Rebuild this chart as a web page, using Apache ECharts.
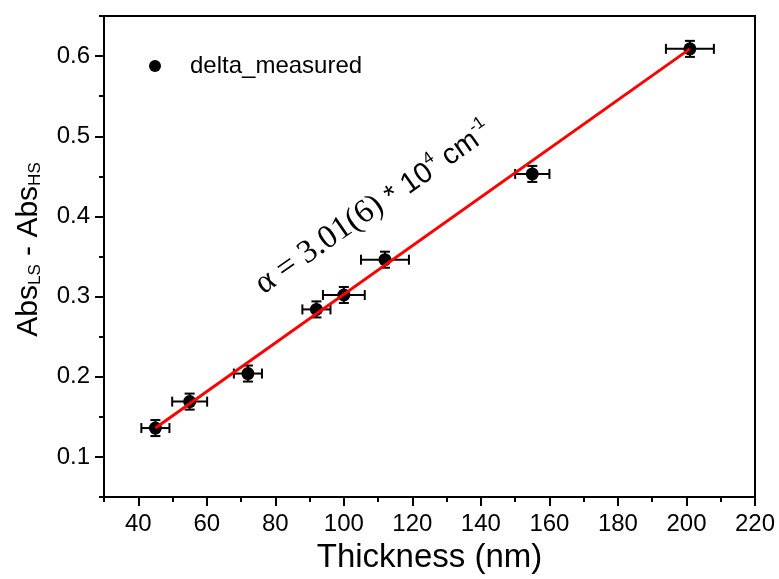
<!DOCTYPE html>
<html>
<head>
<meta charset="utf-8">
<script src="https://cdn.jsdelivr.net/npm/echarts@6/dist/echarts.min.js"></script>
<style>
  html, body { margin: 0; padding: 0; background: #ffffff; }
  #chart { width: 779px; height: 579px; }
</style>
</head>
<body>
<div id="chart"></div>
<script>
// ---- Data ----
const thickness    = [45, 55, 72, 92, 100, 112, 155, 201];
const thicknessErr = [4.1, 5.1, 4.1, 4.1, 6.1, 7, 5, 7];
const absDiff      = [0.136, 0.169, 0.204, 0.284, 0.302, 0.346, 0.453, 0.609];
const absDiffErr   = [0.01, 0.01, 0.01, 0.01, 0.01, 0.01, 0.01, 0.01];
const fitX = [45, 201];
const fitY = [0.136, 0.609];
const xTickLabels = [40, 60, 80, 100, 120, 140, 160, 180, 200, 220];
const yTickLabels = [0.1, 0.2, 0.3, 0.4, 0.5, 0.6];
const seriesName = 'delta_measured';

// ---- Build ----
const pointData = thickness.map((x, i) => [x, absDiff[i], thicknessErr[i], absDiffErr[i]]);
const fitData = fitX.map((x, i) => [x, fitY[i]]);

const sans = 'Liberation Sans, Arial, sans-serif';
const serif = 'Liberation Serif, Times New Roman, serif';

const chart = echarts.init(document.getElementById('chart'), null, { renderer: 'canvas' });

const axisLineStyle = { color: '#000', width: 2 };

const option = {
  backgroundColor: '#ffffff',
  animation: false,
  grid: {
    left: 104, right: 24, top: 16, bottom: 82,
    show: true, borderColor: '#000', borderWidth: 2, backgroundColor: 'transparent'
  },
  legend: {
    data: [{ name: seriesName, icon: 'circle', itemStyle: { color: '#000', opacity: 1 } }],
    left: 149, top: 54, padding: 0,
    itemWidth: 12, itemHeight: 12,
    textStyle: { fontFamily: sans, fontSize: 24, color: '#000', padding: [0, 0, 0, 24] }
  },
  xAxis: [{
    type: 'value', min: 30, max: 220, interval: 10,
    name: 'Thickness (nm)', nameLocation: 'middle', nameGap: 44,
    nameTextStyle: { fontFamily: sans, fontSize: 33, color: '#000' },
    axisLine: { show: true, onZero: false, lineStyle: axisLineStyle },
    axisTick: { show: true, inside: false, length: 9, customValues: xTickLabels, lineStyle: { color: '#000', width: 2 } },
    axisLabel: { customValues: xTickLabels, margin: 15, fontFamily: sans, fontSize: 24, color: '#000' },
    splitLine: { show: false }
  }, {
    type: 'value', min: 30, max: 220, interval: 10, position: 'bottom', offset: 0,
    axisLine: { show: false },
    axisTick: { show: true, inside: false, length: 5, lineStyle: { color: '#000', width: 2 } },
    axisLabel: { show: false },
    splitLine: { show: false }
  }],
  yAxis: [{
    type: 'value', min: 0.05, max: 0.65, interval: 0.05,
    name: '{m|Abs}{sub|LS}{m| - Abs}{sub|HS}', nameLocation: 'middle', nameGap: 60, nameRotate: 90,
    nameTextStyle: {
      color: '#000',
      padding: [0, 0, 0, 14],
      rich: {
        m: { fontFamily: sans, fontSize: 30, color: '#000', lineHeight: 32, verticalAlign: 'bottom' },
        sub: { fontFamily: sans, fontSize: 17, color: '#000', lineHeight: 22, verticalAlign: 'bottom' }
      }
    },
    axisLine: { show: true, onZero: false, lineStyle: axisLineStyle },
    axisTick: { show: true, inside: false, length: 9, customValues: yTickLabels, lineStyle: { color: '#000', width: 2 } },
    axisLabel: { customValues: yTickLabels, margin: 14, fontFamily: sans, fontSize: 24, color: '#000',
      formatter: v => Number(v).toFixed(1) },
    splitLine: { show: false }
  }, {
    type: 'value', min: 0.05, max: 0.65, interval: 0.05, position: 'left', offset: 0,
    axisLine: { show: false },
    axisTick: { show: true, inside: false, length: 5, lineStyle: { color: '#000', width: 2 } },
    axisLabel: { show: false },
    splitLine: { show: false }
  }],
  series: [{
    type: 'custom',
    name: 'errorbars',
    xAxisIndex: 0, yAxisIndex: 0,
    data: pointData,
    z: 2,
    renderItem: function (params, api) {
      const x = api.value(0), y = api.value(1), xe = api.value(2), ye = api.value(3);
      const l = api.coord([x - xe, y]);
      const r = api.coord([x + xe, y]);
      const t = api.coord([x, y + ye]);
      const b = api.coord([x, y - ye]);
      const cap = 5;
      const st = { stroke: '#000', lineWidth: 2 };
      return {
        type: 'group',
        children: [
          { type: 'line', shape: { x1: l[0], y1: l[1], x2: r[0], y2: r[1] }, style: st },
          { type: 'line', shape: { x1: l[0], y1: l[1] - cap, x2: l[0], y2: l[1] + cap }, style: st },
          { type: 'line', shape: { x1: r[0], y1: r[1] - cap, x2: r[0], y2: r[1] + cap }, style: st },
          { type: 'line', shape: { x1: t[0], y1: t[1], x2: b[0], y2: b[1] }, style: st },
          { type: 'line', shape: { x1: t[0] - cap, y1: t[1], x2: t[0] + cap, y2: t[1] }, style: st },
          { type: 'line', shape: { x1: b[0] - cap, y1: b[1], x2: b[0] + cap, y2: b[1] }, style: st }
        ]
      };
    }
  }, {
    type: 'scatter',
    name: seriesName,
    xAxisIndex: 0, yAxisIndex: 0,
    data: pointData.map(d => [d[0], d[1]]),
    symbol: 'circle', symbolSize: 13,
    itemStyle: { color: '#000', opacity: 1 },
    z: 3
  }, {
    type: 'line',
    name: 'fit',
    xAxisIndex: 0, yAxisIndex: 0,
    data: fitData,
    showSymbol: false, symbol: 'none',
    lineStyle: { color: '#ff0000', width: 3 },
    z: 4
  }],
  graphic: [{
    type: 'text',
    x: 268, y: 301,
    rotation: 35 * Math.PI / 180,
    style: {
      text: '{g|α = 3.01(6)}{s| * 10}{p|4}{s| cm}{p|-1}',
      align: 'left', verticalAlign: 'bottom',
      rich: {
        g: { fontFamily: serif, fontSize: 33, lineHeight: 33, verticalAlign: 'bottom', fill: '#000', color: '#000' },
        s: { fontFamily: sans, fontSize: 29, lineHeight: 30, verticalAlign: 'bottom', fill: '#000', color: '#000' },
        p: { fontFamily: sans, fontSize: 17, lineHeight: 17, verticalAlign: 'top', fill: '#000', color: '#000' }
      }
    }
  }]
};

chart.setOption(option);
</script>
</body>
</html>
